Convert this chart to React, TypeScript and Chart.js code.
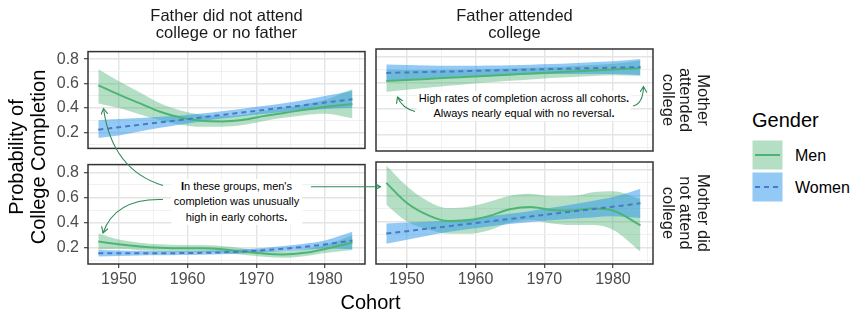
import React, { useEffect, useRef } from 'react';
import { Chart, registerables } from 'chart.js';

Chart.register(...registerables);

// ---------- data ----------
const cohorts = [1947, 1950, 1953, 1956, 1959, 1962, 1965, 1968, 1971, 1974, 1977, 1980, 1984];

// Father did not attend college or no father / Mother attended college
const tlMenFit = [0.586, 0.51, 0.44, 0.37, 0.322, 0.296, 0.291, 0.303, 0.334, 0.36, 0.386, 0.409, 0.433];
const tlMenHi = [0.717, 0.62, 0.53, 0.44, 0.38, 0.345, 0.335, 0.345, 0.375, 0.4, 0.43, 0.465, 0.555];
const tlMenLo = [0.438, 0.4, 0.35, 0.3, 0.264, 0.247, 0.247, 0.261, 0.293, 0.32, 0.342, 0.353, 0.316];
const tlWomenFit = [0.223, 0.243, 0.263, 0.283, 0.303, 0.323, 0.344, 0.364, 0.384, 0.404, 0.424, 0.445, 0.472];
const tlWomenHi = [0.301, 0.31, 0.318, 0.328, 0.34, 0.355, 0.374, 0.394, 0.416, 0.44, 0.467, 0.498, 0.542];
const tlWomenLo = [0.155, 0.176, 0.208, 0.238, 0.266, 0.291, 0.314, 0.334, 0.352, 0.368, 0.381, 0.392, 0.402];

// Father attended college / Mother attended college
const trMenFit = [0.614, 0.622, 0.63, 0.638, 0.646, 0.655, 0.663, 0.671, 0.679, 0.687, 0.695, 0.703, 0.714];
const trMenHi = [0.7, 0.699, 0.699, 0.7, 0.702, 0.707, 0.711, 0.716, 0.722, 0.729, 0.738, 0.748, 0.773];
const trMenLo = [0.528, 0.545, 0.561, 0.576, 0.59, 0.603, 0.615, 0.626, 0.636, 0.645, 0.652, 0.658, 0.655];
const trWomenFit = [0.676, 0.68, 0.684, 0.687, 0.691, 0.695, 0.698, 0.702, 0.706, 0.71, 0.713, 0.717, 0.722];
const trWomenHi = [0.741, 0.737, 0.734, 0.732, 0.731, 0.733, 0.736, 0.74, 0.745, 0.752, 0.759, 0.766, 0.785];
const trWomenLo = [0.611, 0.623, 0.634, 0.642, 0.651, 0.657, 0.66, 0.664, 0.667, 0.668, 0.667, 0.668, 0.659];

// Father did not attend college or no father / Mother did not attend college
const blMenFit = [0.249, 0.228, 0.21, 0.2, 0.195, 0.195, 0.187, 0.169, 0.153, 0.146, 0.159, 0.19, 0.241];
const blMenHi = [0.314, 0.265, 0.24, 0.228, 0.222, 0.222, 0.214, 0.195, 0.178, 0.172, 0.186, 0.222, 0.3];
const blMenLo = [0.184, 0.191, 0.18, 0.172, 0.168, 0.168, 0.16, 0.143, 0.128, 0.12, 0.132, 0.158, 0.182];
const blWomenFit = [0.156, 0.156, 0.156, 0.156, 0.157, 0.159, 0.163, 0.17, 0.18, 0.192, 0.207, 0.226, 0.257];
const blWomenHi = [0.182, 0.178, 0.175, 0.173, 0.173, 0.175, 0.179, 0.187, 0.198, 0.213, 0.232, 0.258, 0.327];
const blWomenLo = [0.13, 0.134, 0.137, 0.139, 0.141, 0.143, 0.147, 0.153, 0.162, 0.171, 0.182, 0.194, 0.187];

// Father attended college / Mother did not attend college
const brMenFit = [0.7, 0.544, 0.451, 0.404, 0.409, 0.443, 0.495, 0.513, 0.49, 0.485, 0.5, 0.485, 0.37];
const brMenHi = [0.835, 0.673, 0.56, 0.505, 0.515, 0.553, 0.6, 0.615, 0.596, 0.598, 0.628, 0.635, 0.575];
const brMenLo = [0.53, 0.4, 0.34, 0.305, 0.305, 0.333, 0.39, 0.411, 0.384, 0.372, 0.372, 0.335, 0.165];
const brWomenFit = [0.306, 0.325, 0.344, 0.363, 0.382, 0.401, 0.42, 0.439, 0.458, 0.477, 0.496, 0.515, 0.541];
const brWomenHi = [0.385, 0.392, 0.398, 0.408, 0.422, 0.44, 0.46, 0.482, 0.506, 0.532, 0.56, 0.59, 0.655];
const brWomenLo = [0.227, 0.258, 0.29, 0.318, 0.342, 0.362, 0.38, 0.396, 0.41, 0.422, 0.432, 0.44, 0.427];

const xTicks = [1950, 1955, 1960, 1965, 1970, 1975, 1980, 1985];
const xLabelTicks = [1950, 1960, 1970, 1980];
const yTicks = [0.1, 0.2, 0.3, 0.4, 0.5, 0.6, 0.7, 0.8];
const yLabelTicks = [0.2, 0.4, 0.6, 0.8];
const xRange = [1945.5, 1985.83];
const yRange = [0.07, 0.862];

const fatherLabels = ['Father did not attend\ncollege or no father', 'Father attended\ncollege'];
const motherLabels = ['Mother\nattended\ncollege', 'Mother did\nnot attend\ncollege'];
const genderLabels = ['Men', 'Women'];
const xTitle = 'Cohort';
const yTitle = 'Probability of\nCollege Completion';
const legendTitle = 'Gender';

// ---------- style ----------
const FONT = "'Liberation Sans', Arial, Helvetica, sans-serif";
const MEN_LINE = '#4cb574';
const MEN_FILL = 'rgba(67,175,110,0.4)';
const WOMEN_LINE = '#4a79c6';
const WOMEN_FILL = 'rgba(40,150,235,0.5)';
const ARROW = '#2e8b57';
const GRID_MAJOR = '#e4e4e4';
const GRID_MINOR = '#eeeeee';

const PW = 277;
const PH = 102;
const colLeft = [88, 376];
const rowTop = [49, 162];

type Panel = { r: number; c: number; men: number[][]; women: number[][] };
const panels: Panel[] = [
  { r: 0, c: 0, men: [tlMenFit, tlMenHi, tlMenLo], women: [tlWomenFit, tlWomenHi, tlWomenLo] },
  { r: 0, c: 1, men: [trMenFit, trMenHi, trMenLo], women: [trWomenFit, trWomenHi, trWomenLo] },
  { r: 1, c: 0, men: [blMenFit, blMenHi, blMenLo], women: [blWomenFit, blWomenHi, blWomenLo] },
  { r: 1, c: 1, men: [brMenFit, brMenHi, brMenLo], women: [brWomenFit, brWomenHi, brWomenLo] },
];

const margins = (p: Panel) => ({
  ml: p.c === 0 ? 88 : 12,
  mr: 12,
  mt: 12,
  mb: p.r === 1 ? 40 : 12,
});

const pts = (arr: number[]) => cohorts.map((x, i) => ({ x, y: arr[i] }));
const isMajorX = (v: number) => xLabelTicks.includes(Math.round(v));
const isMajorY = (v: number) => yLabelTicks.some((t) => Math.abs(t - v) < 1e-6);

const borderPlugin = {
  id: 'panelBorder',
  afterDraw(chart: any) {
    const { ctx, chartArea: a } = chart;
    ctx.save();
    ctx.strokeStyle = '#333333';
    ctx.lineWidth = 1.5;
    ctx.strokeRect(a.left, a.top, a.right - a.left, a.bottom - a.top);
    ctx.restore();
  },
};

function makeConfig(p: Panel): any {
  const m = margins(p);
  const showX = p.r === 1;
  const showY = p.c === 0;
  const band = (data: number[], fill: any, color: string, order: number) => ({
    data: pts(data),
    borderWidth: 0,
    borderColor: 'rgba(0,0,0,0)',
    backgroundColor: color,
    pointRadius: 0,
    fill,
    cubicInterpolationMode: 'monotone',
    order,
  });
  return {
    type: 'line',
    data: {
      datasets: [
        band(p.men[1], '+1', MEN_FILL, 6),
        band(p.men[2], false, MEN_FILL, 5),
        band(p.women[1], '+1', WOMEN_FILL, 4),
        band(p.women[2], false, WOMEN_FILL, 3),
        {
          label: genderLabels[0],
          data: pts(p.men[0]),
          borderColor: MEN_LINE,
          borderWidth: 2,
          pointRadius: 0,
          fill: false,
          cubicInterpolationMode: 'monotone',
          order: 2,
        },
        {
          label: genderLabels[1],
          data: pts(p.women[0]),
          borderColor: WOMEN_LINE,
          borderWidth: 2,
          borderDash: [5, 4],
          pointRadius: 0,
          fill: false,
          cubicInterpolationMode: 'monotone',
          order: 1,
        },
      ],
    },
    options: {
      responsive: false,
      animation: false,
      devicePixelRatio: 1,
      events: [],
      layout: { padding: { left: 0, right: m.mr, top: m.mt, bottom: 0 } },
      plugins: { legend: { display: false }, tooltip: { enabled: false } },
      scales: {
        x: {
          type: 'linear',
          min: xRange[0],
          max: xRange[1],
          afterBuildTicks: (s: any) => {
            s.ticks = xTicks.map((v) => ({ value: v }));
          },
          afterFit: (s: any) => {
            s.height = m.mb;
          },
          border: { display: false },
          grid: {
            color: (ctx: any) => (isMajorX(ctx.tick.value) ? GRID_MAJOR : GRID_MINOR),
            lineWidth: (ctx: any) => (isMajorX(ctx.tick.value) ? 1.4 : 0.8),
            drawTicks: showX,
            tickLength: 4,
            tickWidth: 1.1,
            tickColor: (ctx: any) => (isMajorX(ctx.tick.value) ? '#333333' : 'rgba(0,0,0,0)'),
          },
          ticks: {
            display: showX,
            autoSkip: false,
            maxRotation: 0,
            padding: 2,
            color: '#4d4d4d',
            font: { family: FONT, size: 16 },
            callback: (v: number) => (isMajorX(v) ? String(Math.round(v)) : ''),
          },
        },
        y: {
          type: 'linear',
          min: yRange[0],
          max: yRange[1],
          afterBuildTicks: (s: any) => {
            s.ticks = yTicks.map((v) => ({ value: v }));
          },
          afterFit: (s: any) => {
            s.width = m.ml;
          },
          border: { display: false },
          grid: {
            color: (ctx: any) => (isMajorY(ctx.tick.value) ? GRID_MAJOR : GRID_MINOR),
            lineWidth: (ctx: any) => (isMajorY(ctx.tick.value) ? 1.4 : 0.8),
            drawTicks: showY,
            tickLength: 4,
            tickWidth: 1.1,
            tickColor: (ctx: any) => (isMajorY(ctx.tick.value) ? '#333333' : 'rgba(0,0,0,0)'),
          },
          ticks: {
            display: showY,
            autoSkip: false,
            padding: 5,
            color: '#4d4d4d',
            font: { family: FONT, size: 16 },
            callback: (v: number) => (isMajorY(v) ? v.toFixed(1) : ''),
          },
        },
      },
    },
    plugins: [borderPlugin],
  };
}

export default function App() {
  const refs = useRef<(HTMLCanvasElement | null)[]>([]);

  useEffect(() => {
    const charts = panels.map((p, i) => new Chart(refs.current[i] as HTMLCanvasElement, makeConfig(p)));
    return () => charts.forEach((c) => c.destroy());
  }, []);

  const base: React.CSSProperties = { position: 'absolute', fontFamily: FONT, whiteSpace: 'pre-line' };

  return (
    <div style={{ position: 'absolute', left: 0, top: 0, width: 852, height: 316, background: '#fff', overflow: 'hidden', fontFamily: FONT }}>
      {panels.map((p, i) => {
        const m = margins(p);
        const w = PW + m.ml + m.mr;
        const h = PH + m.mt + m.mb;
        return (
          <canvas
            key={i}
            ref={(el) => {
              refs.current[i] = el;
            }}
            width={w}
            height={h}
            style={{ position: 'absolute', left: colLeft[p.c] - m.ml, top: rowTop[p.r] - m.mt, width: w, height: h }}
          />
        );
      })}

      {/* column strips */}
      {fatherLabels.map((t, c) => (
        <div key={'f' + c} style={{ ...base, left: colLeft[c], top: 6.5, width: PW, textAlign: 'center', fontSize: 16.5, lineHeight: '17.5px', color: '#1a1a1a' }}>
          {t}
        </div>
      ))}
      {/* row strips */}
      {motherLabels.map((t, r) => (
        <div
          key={'m' + r}
          style={{
            ...base,
            left: 685.5,
            top: rowTop[r] + PH / 2,
            width: 120,
            textAlign: 'center',
            fontSize: 16.5,
            lineHeight: '17.5px',
            color: '#1a1a1a',
            transform: 'translate(-50%, -50%) rotate(90deg)',
          }}
        >
          {t}
        </div>
      ))}

      {/* axis titles */}
      <div style={{ ...base, left: 26.7, top: 156.5, width: 240, textAlign: 'center', fontSize: 20, lineHeight: '22px', color: '#000', transform: 'translate(-50%, -50%) rotate(-90deg)' }}>
        {yTitle}
      </div>
      <div style={{ ...base, left: 370.5, top: 290, fontSize: 20, lineHeight: '24px', color: '#000', transform: 'translateX(-50%)' }}>{xTitle}</div>

      {/* annotations */}
      <div style={{ ...base, whiteSpace: 'nowrap', left: 524, top: 91.3, transform: 'translateX(-50%)', fontSize: 11, lineHeight: '15px', textAlign: 'center', background: '#fff', padding: '0 2px', color: '#000' }}>
        High rates of completion across all cohorts<b>.</b>
        <br />
        Always nearly equal with no reversal<b>.</b>
      </div>
      <div style={{ ...base, whiteSpace: 'nowrap', left: 236.5, top: 178.6, transform: 'translateX(-50%)', fontSize: 11, lineHeight: '15.5px', textAlign: 'center', background: '#fff', padding: '0 3px', color: '#000' }}>
        <b>I</b>n these groups, men's
        <br />
        completion was unusually
        <br />
        high in early cohorts<b>.</b>
      </div>

      {/* legend text */}
      <div style={{ ...base, left: 752, top: 108.2, fontSize: 20, lineHeight: '24px', color: '#000' }}>{legendTitle}</div>
      <div style={{ ...base, left: 795, top: 145.7, fontSize: 16, lineHeight: '19px', color: '#000' }}>{genderLabels[0]}</div>
      <div style={{ ...base, left: 795, top: 177.7, fontSize: 16, lineHeight: '19px', color: '#000' }}>{genderLabels[1]}</div>

      <svg width={852} height={316} style={{ position: 'absolute', left: 0, top: 0, pointerEvents: 'none' }}>
        <defs>
          <marker id="ah" markerUnits="userSpaceOnUse" markerWidth="10" markerHeight="10" refX="6" refY="3.5" orient="auto">
            <path d="M0,0 L6,3.5 L0,7" fill="none" stroke={ARROW} strokeWidth="1.1" />
          </marker>
        </defs>
        <g fill="none" stroke={ARROW} strokeWidth="1.1" markerEnd="url(#ah)">
          <path d="M 415 111.5 Q 402 108 397.5 97" />
          <path d="M 633 106 Q 643 104 643.5 86.5" />
          <path d="M 163 185.5 Q 112 170 103.5 108.5" />
          <path d="M 163 199.5 Q 115 198 103 233" />
          <path d="M 311 186.7 L 380.5 186.7" />
        </g>
        {/* legend keys */}
        <rect x={752.5} y={140.5} width={30} height={29} fill={MEN_FILL} />
        <line x1={755} x2={780} y1={155} y2={155} stroke={MEN_LINE} strokeWidth={2} />
        <rect x={752.5} y={172.5} width={30} height={29} fill={WOMEN_FILL} />
        <line x1={755} x2={780} y1={187} y2={187} stroke={WOMEN_LINE} strokeWidth={2} strokeDasharray="5 4" />
      </svg>
    </div>
  );
}
